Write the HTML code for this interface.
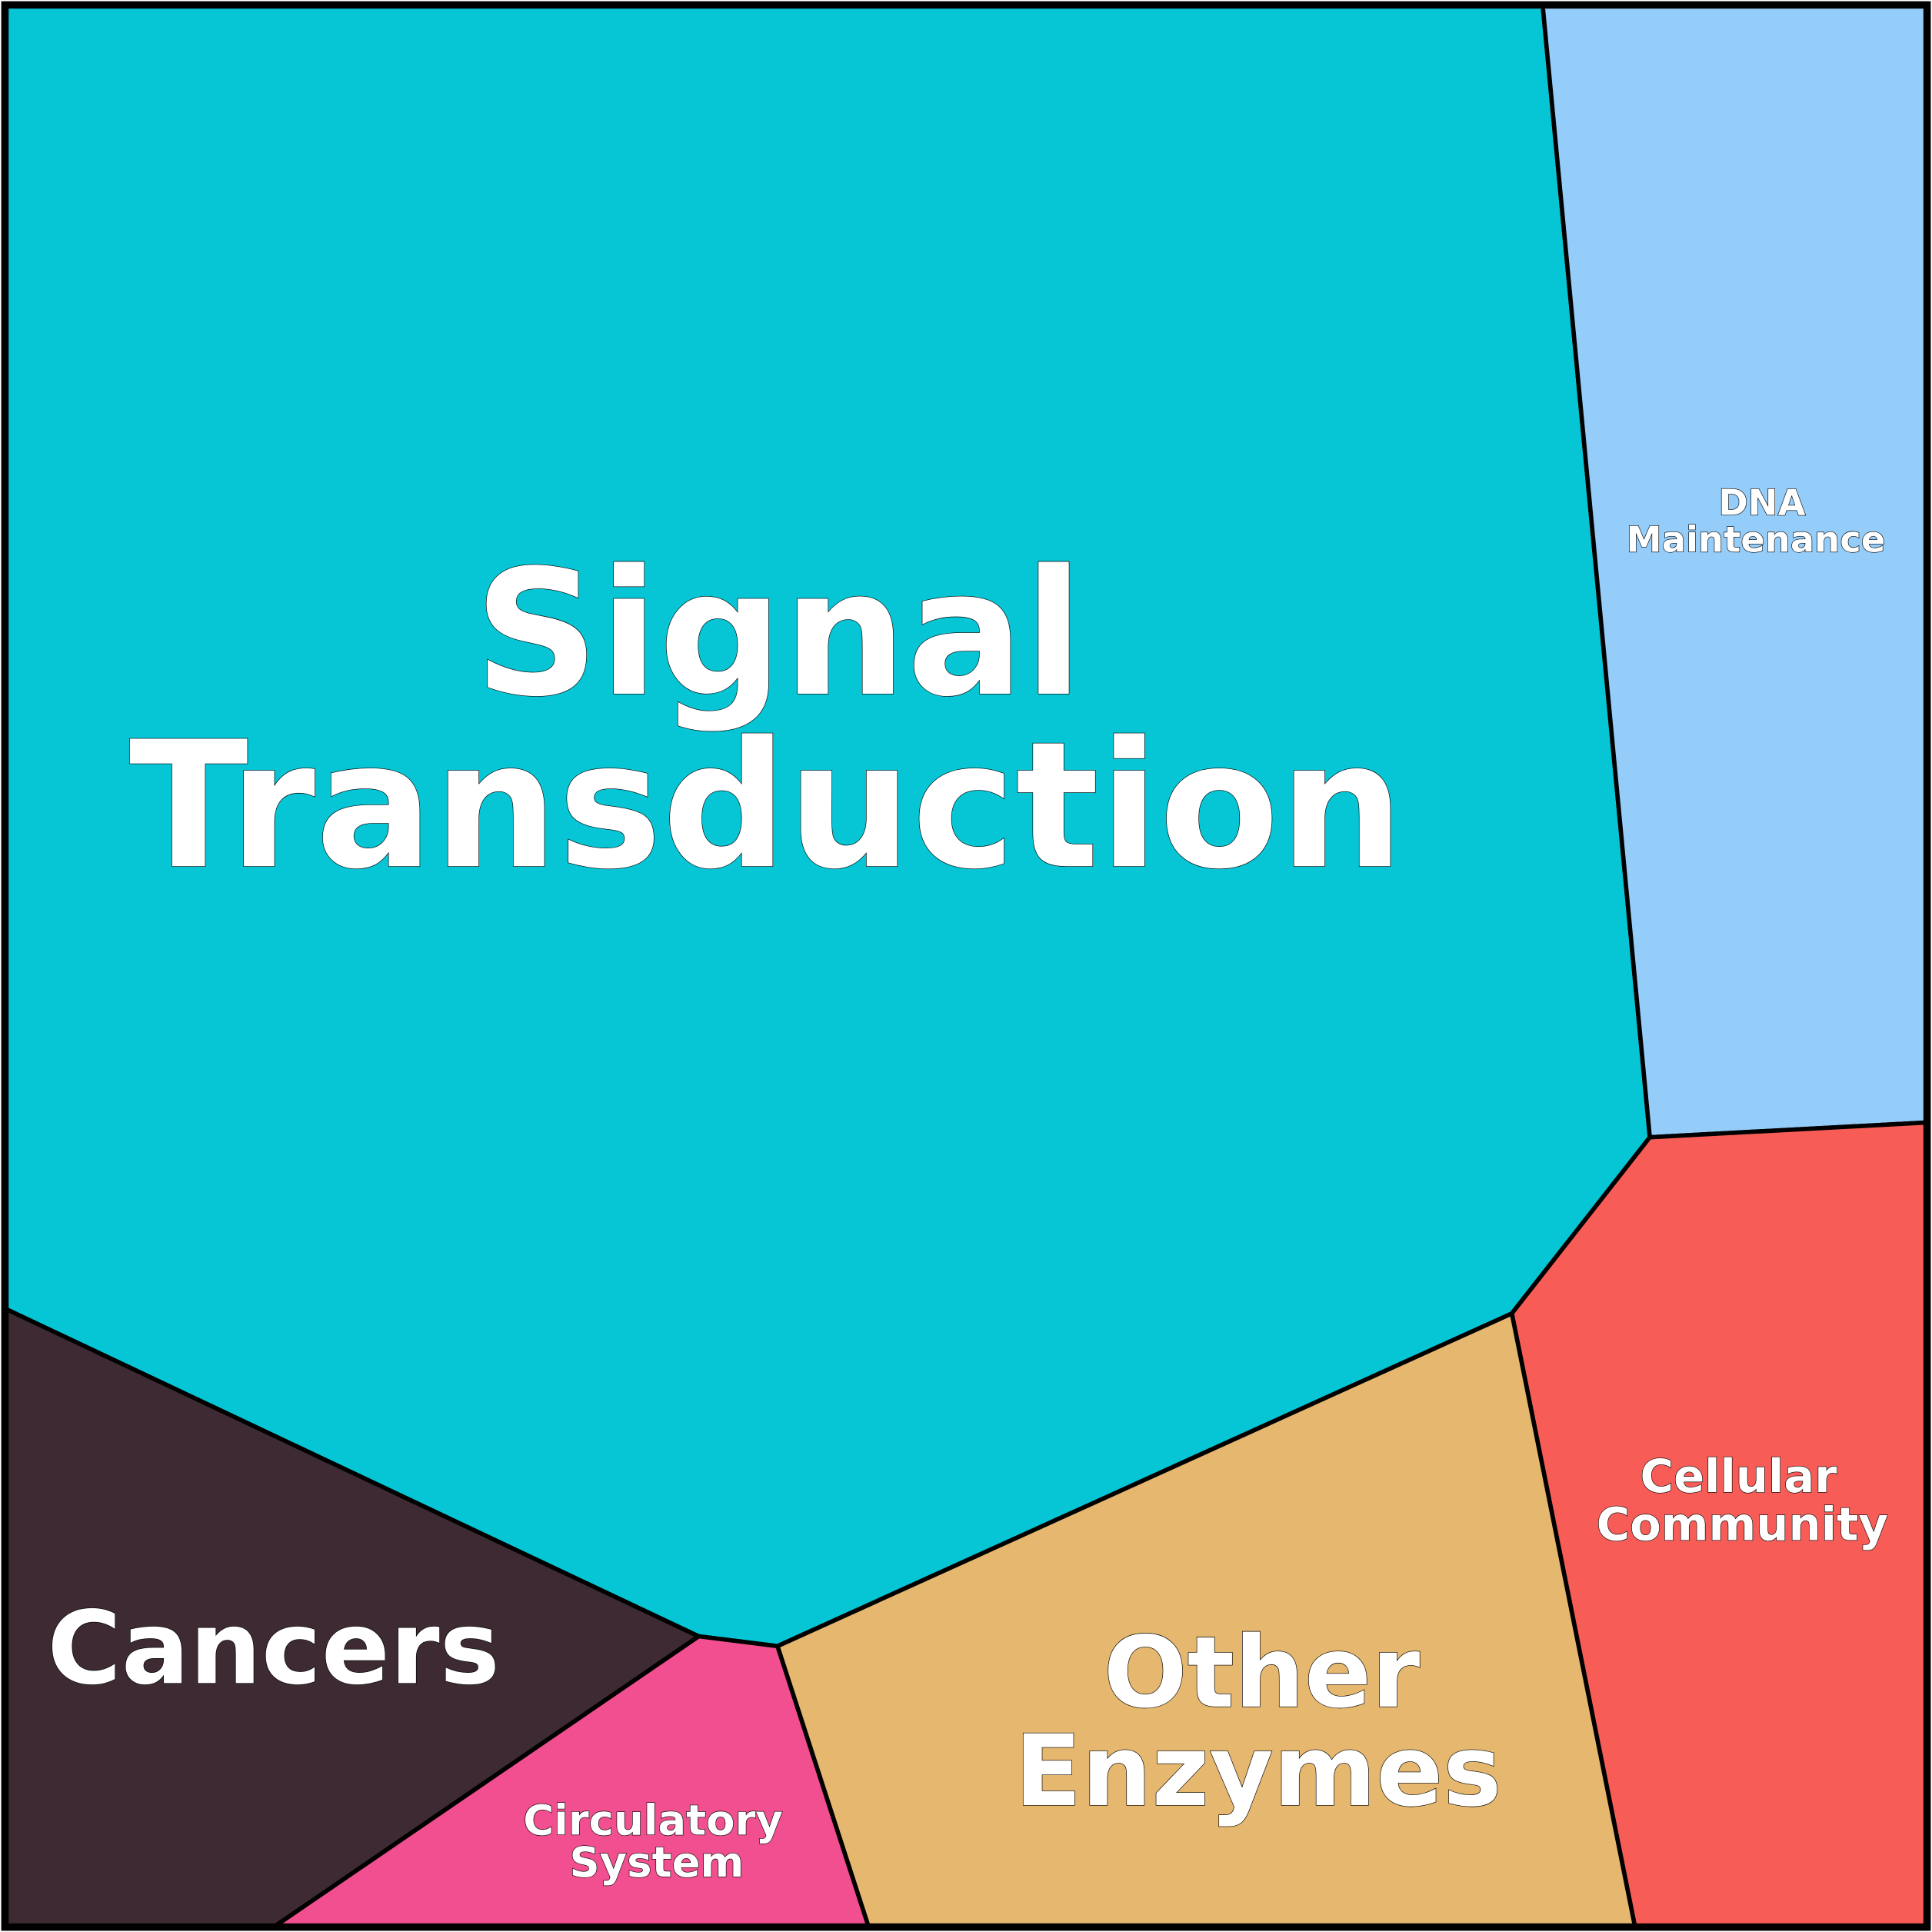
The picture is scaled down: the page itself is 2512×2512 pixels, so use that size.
<!DOCTYPE html>
<html><head><meta charset="utf-8"><style>
html,body{margin:0;padding:0;background:#fff;}
svg{display:block;}
text{font-family:"DejaVu Sans","Liberation Sans",sans-serif;font-weight:bold;fill:#fff;stroke:#000;stroke-width:0.8;text-anchor:middle;paint-order:stroke;}
</style></head><body>
<svg width="2512" height="2512" viewBox="0 0 1568 1568" xmlns="http://www.w3.org/2000/svg">
<g stroke="#000" stroke-width="3.5" stroke-linejoin="round">
<polygon fill="#06C5D5" points="4,4 1252,4 1339,923 1227,1066 631,1336 567,1328 4,1062"/>
<polygon fill="#94CDFA" points="1252,4 1564,4 1564,911 1339,923"/>
<polygon fill="#F85C57" points="1339,923 1564,911 1564,1564 1327,1564 1227,1066"/>
<polygon fill="#E5B76F" points="1227,1066 1327,1564 705,1564 631,1336"/>
<polygon fill="#F14F8F" points="567,1328 631,1336 705,1564 222,1564"/>
<polygon fill="#3D2A33" points="4,1062 567,1328 222,1564 4,1564"/>
</g>
<rect x="4" y="4" width="1560" height="1560" fill="none" stroke="#000" stroke-width="6"/>
<text x="632" y="563" font-size="141">Signal</text>
<text x="622" y="703" font-size="142">Transduction</text>
<text x="1430" y="418" font-size="29">DNA</text>
<text x="1425" y="448" font-size="29">Maintenance</text>
<text x="1411" y="1211" font-size="37">Cellular</text>
<text x="1414" y="1250" font-size="37">Community</text>
<text x="1024" y="1385" font-size="80">Other</text>
<text x="1021" y="1465" font-size="80">Enzymes</text>
<text x="222" y="1366" font-size="82">Cancers</text>
<text x="530" y="1489" font-size="34">Circulatory</text>
<text x="533" y="1523" font-size="34">System</text>
</svg>
</body></html>
